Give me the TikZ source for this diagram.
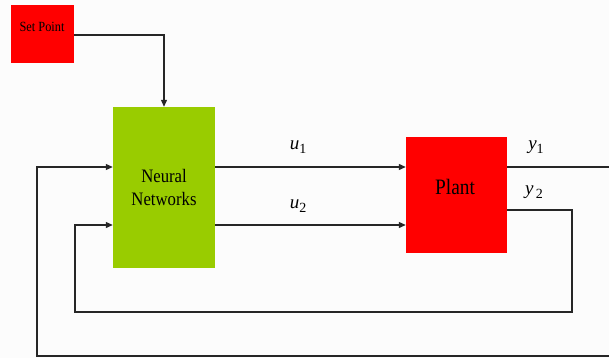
\documentclass[tikz,border=0pt]{standalone}
\usepackage{fontspec}
\setmainfont{Liberation Serif}
\usetikzlibrary{arrows.meta}
\newcommand{\vlab}[2]{{\fontsize{19}{20}\selectfont\itshape #1}\raisebox{-4pt}{\fontsize{14}{15}\selectfont #2}}
\begin{document}
\begin{tikzpicture}[x=1pt,y=-1pt,
  blk/.style={draw=none,inner sep=0pt,align=center,text=black},
  wire/.style={draw=black!85,line width=1.1pt},
  arr/.style={wire,-{Triangle[length=7pt,width=6pt]}},
  lbl/.style={inner sep=0pt}]
\useasboundingbox (0,0) rectangle (609,358);
\fill[white!99!black] (0,0) rectangle (609,358);
\node[blk,fill=red,minimum width=63pt,minimum height=58pt] (sp) at (42.5,34) {};
\node[inner sep=0pt,font=\fontsize{14}{16}\selectfont] (spt) at (42,27) {\scalebox{0.88}[1]{Set Point}};
\node[blk,fill={rgb,255:red,153;green,204;blue,0},minimum width=102pt,minimum height=161pt,font=\fontsize{19}{23}\selectfont] (nn) at (164,187.5) {\scalebox{0.88}[1]{Neural}\\\scalebox{0.88}[1]{Networks}};
\node[blk,fill=red,minimum width=101pt,minimum height=116pt] (pl) at (456.5,195) {};
\node[inner sep=0pt,font=\fontsize{22}{24}\selectfont] (plt) at (455,187) {\scalebox{0.88}[1]{Plant}};
% set point to NN
\coordinate (c1) at (164,35);
\draw[arr] (sp.east |- c1) -- (c1) -- (nn.north);
% u1, u2
\coordinate (u1a) at (215,167);
\coordinate (u2a) at (215,225);
\draw[arr] (u1a) -- (pl.west |- u1a);
\draw[arr] (u2a) -- (pl.west |- u2a);
\node[lbl] (lu1) at (298,147) {\vlab{u}{1}};
\node[lbl] (lu2) at (298,206) {\vlab{u}{2}};
% y1 outer loop
\coordinate (y1a) at (507,167);
\coordinate (o1) at (615,167);
\coordinate (o2) at (615,356);
\coordinate (o3) at (37,356);
\coordinate (o4) at (37,167);
\draw[arr] (y1a) -- (o1) -- (o2) -- (o3) -- (o4) -- (nn.west |- o4);
% y2 inner loop
\coordinate (y2a) at (507,210);
\coordinate (i1) at (572,210);
\coordinate (i2) at (572,312);
\coordinate (i3) at (75,312);
\coordinate (i4) at (75,225);
\draw[arr] (y2a) -- (i1) -- (i2) -- (i3) -- (i4) -- (nn.west |- i4);
\node[lbl] (ly1) at (536,147) {\vlab{y}{1}};
\node[lbl] (ly2) at (534,192) {\vlab{y}{\,2}};
\end{tikzpicture}
\end{document}
